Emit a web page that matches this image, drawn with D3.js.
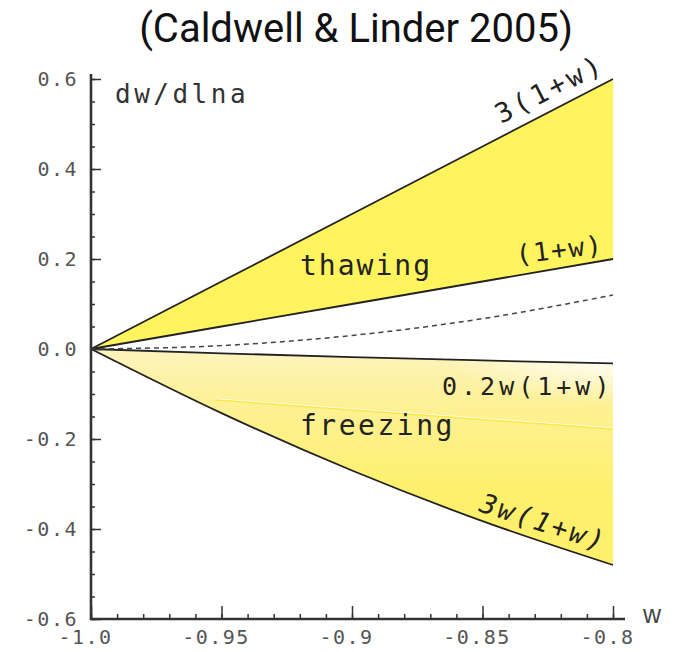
<!DOCTYPE html>
<html>
<head>
<meta charset="utf-8">
<script src="https://cdn.jsdelivr.net/npm/d3@7/dist/d3.min.js"></script>
<style>
  html, body { margin: 0; padding: 0; background: #fff; }
  svg { display: block; }
  .mono { font-family: "DejaVu Sans Mono", monospace; }
</style>
</head>
<body>
<svg id="chart" width="679" height="652"></svg>
<script>
// Equation of state parameter w and the bounding curves of dw/dlna
const wSamples      = [-1.0, -0.95, -0.9, -0.85, -0.8];
const upperThawing  = [0, 0.15, 0.30, 0.45, 0.60];          // 3(1+w)
const lowerThawing  = [0, 0.05, 0.10, 0.15, 0.20];          // (1+w)
const dashedCurve   = [0, 0.0075, 0.03, 0.0675, 0.12];      // dashed divider
const upperFreezing = [0, -0.0095, -0.018, -0.0255, -0.032]; // 0.2w(1+w)
const lowerFreezing = [0, -0.1425, -0.27, -0.3825, -0.48];  // 3w(1+w)
const shadeSeamW    = [-0.953, -0.8];
const shadeSeamV    = [-0.113, -0.178];

const xMajorTicks = [-1.0, -0.95, -0.9, -0.85, -0.8];
const xTickLabels = ["-1.0", "-0.95", "-0.9", "-0.85", "-0.8"];
const yMajorTicks = [-0.6, -0.4, -0.2, 0.0, 0.2, 0.4, 0.6];
const yTickLabels = ["-0.6", "-0.4", "-0.2", "0.0", "0.2", "0.4", "0.6"];
const xMinorTicks = d3.range(-1.0, -0.7999, 0.01);
const yMinorTicks = d3.range(-0.6, 0.6001, 0.05);

const svg = d3.select("#chart");
const x = d3.scaleLinear().domain([-1.0, -0.8]).range([91, 613]);
const y = d3.scaleLinear().domain([-0.6, 0.6]).range([619, 79]);

const defs = svg.append("defs");
const fg = defs.append("linearGradient").attr("id", "freezeGrad")
  .attr("gradientUnits", "userSpaceOnUse")
  .attr("x1", 0).attr("x2", 0).attr("y1", y(0)).attr("y2", y(-0.32));
fg.append("stop").attr("offset", 0).attr("stop-color", "#fdf4c0");
fg.append("stop").attr("offset", 0.3).attr("stop-color", "#fdf19c");
fg.append("stop").attr("offset", 1).attr("stop-color", "#fef06a");
const cx = x(-0.8), cy = y(-0.01);
const rg = defs.append("radialGradient").attr("id", "freezeFade")
  .attr("gradientUnits", "userSpaceOnUse")
  .attr("cx", cx).attr("cy", cy).attr("r", 170)
  .attr("gradientTransform", `translate(${cx},${cy}) scale(1,0.3) translate(${-cx},${-cy})`);
rg.append("stop").attr("offset", 0).attr("stop-color", "#fff").attr("stop-opacity", 0.95);
rg.append("stop").attr("offset", 1).attr("stop-color", "#fff").attr("stop-opacity", 0);

const pts = vals => wSamples.map((w, i) => [w, vals[i]]);
const band = (top, bot) => wSamples.map((w, i) => ({ w, t: top[i], b: bot[i] }));

const area = d3.area().curve(d3.curveMonotoneX)
  .x(d => x(d.w)).y0(d => y(d.b)).y1(d => y(d.t));
const line = d3.line().curve(d3.curveMonotoneX)
  .x(d => x(d[0])).y(d => y(d[1]));

// shaded regions
svg.append("path").attr("d", area(band(upperThawing, lowerThawing)))
  .attr("fill", "#fff35e");
svg.append("path").attr("d", area(band(upperFreezing, lowerFreezing)))
  .attr("fill", "url(#freezeGrad)");
svg.append("path").attr("d", area(band(upperFreezing, lowerFreezing)))
  .attr("fill", "url(#freezeFade)");

// faint shading seam inside the freezing band
const seam = shadeSeamW.map((w, i) => [w, shadeSeamV[i]]);
svg.append("path").attr("d", line(seam)).attr("fill", "none")
  .attr("stroke", "#fffbe8").attr("stroke-width", 1).attr("transform", "translate(0,-1.2)");
svg.append("path").attr("d", line(seam)).attr("fill", "none")
  .attr("stroke", "#fbe83c").attr("stroke-width", 1.3);

// boundary curves
[upperThawing, lowerThawing, upperFreezing, lowerFreezing].forEach(v => {
  svg.append("path").attr("d", line(pts(v))).attr("fill", "none")
    .attr("stroke", "#222").attr("stroke-width", 1.8);
});
svg.append("path").attr("d", line(pts(dashedCurve))).attr("fill", "none")
  .attr("stroke", "#444").attr("stroke-width", 1.5).attr("stroke-dasharray", "5,4");

// axes
const axisColor = "#333";
const gy = svg.append("g").attr("transform", `translate(${x(-1.0)},0)`);
gy.call(d3.axisLeft(y).tickValues(yMinorTicks).tickSize(-4).tickFormat(""));
gy.call(g => g.select(".domain").remove());
const gyMaj = svg.append("g").attr("transform", `translate(${x(-1.0)},0)`);
gyMaj.call(d3.axisLeft(y).tickValues(yMajorTicks).tickSize(-10).tickPadding(13)
  .tickFormat((d, i) => yTickLabels[i]));
gyMaj.select(".domain").remove();

const gx = svg.append("g").attr("transform", `translate(0,${y(-0.6)})`);
gx.call(d3.axisBottom(x).tickValues(xMinorTicks).tickSize(-5).tickFormat(""));
gx.select(".domain").remove();
const gxMaj = svg.append("g").attr("transform", `translate(0,${y(-0.6)})`);
gxMaj.call(d3.axisBottom(x).tickValues(xMajorTicks).tickSize(-13)
  .tickFormat((d, i) => xTickLabels[i]));
gxMaj.select(".domain").remove();

svg.selectAll(".tick line").attr("stroke", axisColor).attr("stroke-width", 1.5);
svg.selectAll(".tick text").attr("class", "mono").attr("fill", "#555")
  .attr("font-size", 20).attr("letter-spacing", 1.5);
gxMaj.selectAll(".tick text").attr("y", 25).attr("dx", -6).attr("dy", 0);

svg.append("line").attr("x1", x(-1.0)).attr("x2", x(-1.0))
  .attr("y1", y(-0.6) + 1).attr("y2", 74)
  .attr("stroke", axisColor).attr("stroke-width", 2.6);
svg.append("line").attr("x1", x(-1.0) - 1).attr("x2", 625)
  .attr("y1", y(-0.6)).attr("y2", y(-0.6))
  .attr("stroke", axisColor).attr("stroke-width", 2.6);

// axis titles
svg.append("text").attr("class", "mono").attr("x", 115).attr("y", 103)
  .attr("font-size", 26).attr("letter-spacing", 3.5).attr("fill", "#333").text("dw/dlna");
svg.append("text").attr("x", 643).attr("y", 623)
  .attr("font-family", "Liberation Sans, Arial, sans-serif")
  .attr("font-size", 25).attr("fill", "#444").text("w");

// region and curve labels
const lab = (txt, tx, ty, size, rot, opts = {}) => {
  const t = svg.append("text").attr("class", "mono")
    .attr("transform", `translate(${tx},${ty}) rotate(${rot})`)
    .attr("font-size", size).attr("letter-spacing", opts.ls ?? 2)
    .attr("fill", "#222").text(txt);
  if (opts.italic) t.attr("font-style", "italic");
  return t;
};
lab("thawing", 300, 275, 28, 0, { ls: 2 });
lab("freezing", 300, 435, 28, 0, { ls: 2.5 });
lab("(1+w)", 517, 264, 26, -7, { ls: 2 });
lab("3(1+w)", 501, 124, 27, -27, { ls: 3.5 });
lab("0.2w(1+w)", 442, 395, 25, 0, { ls: 4 });
lab("3w(1+w)", 478, 511, 27, 18, { ls: 2.5, italic: true });

// title
svg.append("text").attr("x", 356).attr("y", 42).attr("text-anchor", "middle")
  .attr("font-family", "Roboto, sans-serif").attr("font-size", 40)
  .attr("fill", "#111").text("(Caldwell & Linder 2005)");
</script>
</body>
</html>
